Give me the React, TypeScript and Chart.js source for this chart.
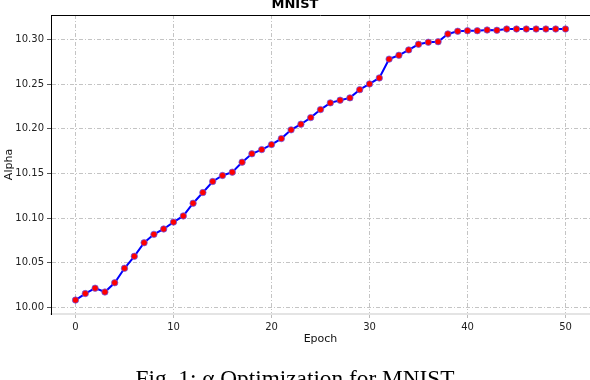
import React, { useEffect, useRef } from "react";
import { Chart, registerables } from "chart.js";

Chart.register(...registerables);

const EPOCHS = [0, 1, 2, 3, 4, 5, 6, 7, 8, 9, 10, 11, 12, 13, 14, 15, 16, 17, 18, 19, 20, 21, 22, 23, 24, 25, 26, 27, 28, 29, 30, 31, 32, 33, 34, 35, 36, 37, 38, 39, 40, 41, 42, 43, 44, 45, 46, 47, 48, 49, 50];
const ALPHA = [
  10.0082, 10.0155, 10.0215, 10.0172, 10.0276, 10.0438, 10.0572, 10.0724, 10.0818, 10.0878,
  10.0955, 10.1024, 10.1166, 10.1286, 10.1410, 10.1477, 10.1514, 10.1626, 10.1720, 10.1767,
  10.1823, 10.1890, 10.1988, 10.2051, 10.2125, 10.2215, 10.2290, 10.2320, 10.2346, 10.2438,
  10.2502, 10.2569, 10.2780, 10.2823, 10.2883, 10.2946, 10.2969, 10.2975, 10.3062, 10.3092,
  10.3098, 10.3098, 10.3106, 10.3103, 10.3117, 10.3117, 10.3117, 10.3117, 10.3117, 10.3117,
  10.3117,
];
const X_TICKS = [0, 10, 20, 30, 40, 50];
const Y_TICKS = [10.0, 10.05, 10.1, 10.15, 10.2, 10.25, 10.3];
const TITLE = "MNIST";
const X_LABEL = "Epoch";
const Y_LABEL = "Alpha";
const CAPTION = "Fig. 1: \u03B1 Optimization for MNIST";

const topBorder = {
  id: "topBorder",
  afterDraw(chart: any) {
    const { ctx, chartArea } = chart;
    ctx.save();
    ctx.strokeStyle = "#000";
    ctx.lineWidth = 1;
    ctx.beginPath();
    const y = Math.round(chartArea.top) + 0.5;
    ctx.moveTo(chartArea.left, y);
    ctx.lineTo(chartArea.right, y);
    ctx.stroke();
    ctx.restore();
  },
};

export default function App() {
  const ref = useRef<HTMLCanvasElement | null>(null);
  useEffect(() => {
    if (!ref.current) return;
    Chart.defaults.font.family = "'DejaVu Sans', sans-serif";
    const chart = new Chart(ref.current, {
      type: "line",
      data: {
        datasets: [
          {
            data: EPOCHS.map((e, i) => ({ x: e, y: ALPHA[i] })),
            borderColor: "#0000ff",
            borderWidth: 2,
            pointRadius: 3.2,
            pointBackgroundColor: "#ff0000",
            pointBorderColor: "rgba(90,90,255,0.7)",
            pointBorderWidth: 1,
            tension: 0,
          },
        ],
      },
      options: {
        animation: false,
        responsive: false,
        maintainAspectRatio: false,
        layout: { autoPadding: false, padding: { left: 0, right: 0, top: 0.4, bottom: 50 } },
        plugins: {
          legend: { display: false },
          tooltip: { enabled: false },
          title: {
            display: true,
            text: TITLE,
            color: "#000",
            font: { size: 13, weight: "bold", family: "'DejaVu Sans', sans-serif" },
            padding: { top: 0, bottom: 3 },
          },
        },
        scales: {
          x: {
            type: "linear",
            min: -2.5,
            max: 52.5,
            afterBuildTicks: (s: any) => {
              s.ticks = X_TICKS.map((v) => ({ value: v }));
            },
            afterFit: (s: any) => {
              s.height = 32;
            },
            ticks: {
              color: "#222",
              font: { size: 10 },
              padding: 3,
              maxRotation: 0,
              callback: (v: any) => String(v),
            },
            grid: {
              color: "#c4c4c4",
              lineWidth: 1,
              tickLength: 4,
              tickColor: "#bbbbbb",
              tickBorderDash: [],
            },
            border: { display: true, color: "#e4e4e4", width: 2, dash: [4, 2, 1, 2] },
            title: {
              display: true,
              text: X_LABEL,
              color: "#111",
              font: { size: 11 },
              padding: { top: 0, bottom: 0 },
            },
          },
          y: {
            type: "linear",
            min: 9.9926,
            max: 10.3274,
            afterBuildTicks: (s: any) => {
              s.ticks = Y_TICKS.map((v) => ({ value: v }));
            },
            afterFit: (s: any) => {
              s.width = 51;
            },
            ticks: {
              color: "#222",
              font: { size: 10 },
              padding: 3,
              callback: (v: any) => Number(v).toFixed(2),
            },
            grid: {
              color: "#c4c4c4",
              lineWidth: 1,
              tickLength: 4,
              tickColor: "#555",
              tickBorderDash: [],
            },
            border: { display: true, color: "#000", width: 1, dash: [4, 2, 1, 2] },
            title: {
              display: true,
              text: Y_LABEL,
              color: "#111",
              font: { size: 11 },
              padding: { top: 3, bottom: 0 },
            },
          },
        },
      },
      plugins: [topBorder],
    } as any);
    return () => chart.destroy();
  }, []);

  return (
    <div
      style={{
        position: "fixed",
        left: 0,
        top: 0,
        width: 590,
        height: 380,
        overflow: "hidden",
        background: "#fff",
      }}
    >
      <canvas
        ref={ref}
        width={590}
        height={400}
        style={{ position: "absolute", left: 0, top: -4, width: 590, height: 400 }}
      />
      <div
        style={{
          position: "absolute",
          left: 0,
          top: 366.5,
          width: 590,
          textAlign: "center",
          fontFamily: "'Liberation Serif', 'Times New Roman', serif",
          fontSize: 23.3,
          lineHeight: "23px",
          color: "#000",
          whiteSpace: "nowrap",
        }}
      >
        {CAPTION}
      </div>
    </div>
  );
}
